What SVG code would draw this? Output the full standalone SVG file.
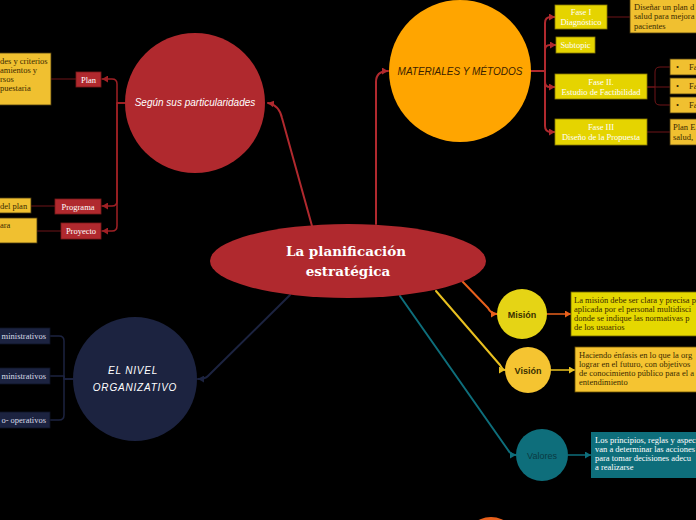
<svg xmlns="http://www.w3.org/2000/svg" width="696" height="520" viewBox="0 0 696 520">
<defs>
<marker id="mRed" markerUnits="userSpaceOnUse" markerWidth="7" markerHeight="7" refX="6" refY="3.5" orient="auto"><path d="M0,0 L6,3.5 L0,7 z" fill="#b0292e"/></marker>
<marker id="mDRed" markerUnits="userSpaceOnUse" markerWidth="7" markerHeight="7" refX="6" refY="3.5" orient="auto"><path d="M0,0 L6,3.5 L0,7 z" fill="#a02025"/></marker>
<marker id="mOrg" markerUnits="userSpaceOnUse" markerWidth="7" markerHeight="7" refX="6" refY="3.5" orient="auto"><path d="M0,0 L6,3.5 L0,7 z" fill="#e8601c"/></marker>
<marker id="mYel" markerUnits="userSpaceOnUse" markerWidth="7" markerHeight="7" refX="6" refY="3.5" orient="auto"><path d="M0,0 L6,3.5 L0,7 z" fill="#e8c020"/></marker>
<marker id="mTeal" markerUnits="userSpaceOnUse" markerWidth="7" markerHeight="7" refX="6" refY="3.5" orient="auto"><path d="M0,0 L6,3.5 L0,7 z" fill="#0e6e7b"/></marker>
<marker id="mNavy" markerUnits="userSpaceOnUse" markerWidth="7" markerHeight="7" refX="6" refY="3.5" orient="auto"><path d="M0,0 L6,3.5 L0,7 z" fill="#1c2340"/></marker>
</defs>
<style>
.c{fill:none;stroke-linecap:round;stroke-linejoin:round}
.red{stroke:#b0292e;stroke-width:2}
.dred{stroke:#a02025;stroke-width:1.5}
.thin{stroke:#6e1518;stroke-width:1}
.bx{font-family:"Liberation Serif",serif;font-size:8.5px}
.w{fill:#ffffff}
.dk{fill:#3a2a00}
.gold{fill:#f0c030;stroke:#4a3a10;stroke-width:0.8}
.ybox{fill:#e5d400;stroke:#8a7a00;stroke-width:0.8}
.rbox{fill:#b0292e;stroke:#7a1a1a;stroke-width:0.8}
.nbox{fill:#1c2340;stroke:#0e1224;stroke-width:0.8}
.lbl{font-family:"Liberation Sans",sans-serif;font-style:italic;font-size:10px}
</style>
<rect width="696" height="520" fill="#000000"/>

<g id="connectors">
<path class="c red" d="M312,226 L282,118 Q279,105 268,103" marker-end="url(#mRed)"/>
<path class="c red" d="M376,224 L376,82 Q376,71 388,71" marker-end="url(#mRed)"/>
<path class="c dred" d="M125,103 H117 V84 Q117,79 112,79 H102" marker-end="url(#mDRed)"/>
<path class="c dred" d="M125,103 H117 V201 Q117,206 112,206 H102" marker-end="url(#mDRed)"/>
<path class="c dred" d="M125,103 H117 V226 Q117,231 112,231 H102" marker-end="url(#mDRed)"/>
<path class="c thin" d="M51,79 H76"/>
<path class="c thin" d="M31,206 H55"/>
<path class="c thin" d="M37,231 H61"/>
<path class="c red" d="M531,71 H545 V23 Q545,17 551,17 H555" marker-end="url(#mRed)"/>
<path class="c red" d="M531,71 H545 V50 Q545,45 550,45 H556" marker-end="url(#mRed)"/>
<path class="c red" d="M531,71 H545 V82 Q545,87 550,87 H555" marker-end="url(#mRed)"/>
<path class="c red" d="M531,71 H545 V126 Q545,132 551,132 H555" marker-end="url(#mRed)"/>
<path class="c thin" d="M607,17 H630"/>
<path class="c thin" d="M647,87 H655 V72 Q655,67 660,67 H670"/>
<path class="c thin" d="M647,87 H670"/>
<path class="c thin" d="M655,87 V100 Q655,105 660,105 H670"/>
<path class="c thin" d="M647,132 H670"/>
<path class="c" stroke="#e8601c" stroke-width="2" d="M462,281 L488,308 Q491,314 497,314" marker-end="url(#mOrg)"/>
<path class="c" stroke="#e8601c" stroke-width="1.5" d="M547,314 H571" marker-end="url(#mOrg)"/>
<path class="c" stroke="#e8c020" stroke-width="2" d="M436,291 L500,365 Q503,370 505,370" marker-end="url(#mYel)"/>
<path class="c" stroke="#e8c020" stroke-width="1.5" d="M551,370 H575" marker-end="url(#mYel)"/>
<path class="c" stroke="#0e6e7b" stroke-width="2" d="M400,296 L508,450 Q511,455 516,455" marker-end="url(#mTeal)"/>
<path class="c" stroke="#0e6e7b" stroke-width="1.5" d="M568,455 H591" marker-end="url(#mTeal)"/>
<path class="c" stroke="#1c2340" stroke-width="2" d="M290,295 L208,376 Q205,379 198,379" marker-end="url(#mNavy)"/>
<path class="c" stroke="#1c2340" stroke-width="1.5" d="M73,379 H64 V341 Q64,336 59,336 H50"/>
<path class="c" stroke="#1c2340" stroke-width="1.5" d="M73,379 H64 V376 H50"/>
<path class="c" stroke="#1c2340" stroke-width="1.5" d="M64,379 V415 Q64,420 59,420 H50"/>
</g>

<g id="central">
<ellipse cx="348" cy="261" rx="138" ry="37" fill="#b0292e"/>
<text x="346" y="256" text-anchor="middle" font-family="DejaVu Serif,serif" font-weight="bold" font-size="13.5" fill="#ffffff">La planificación</text>
<text x="348" y="276" text-anchor="middle" font-family="DejaVu Serif,serif" font-weight="bold" font-size="13.5" fill="#ffffff">estratégica</text>
</g>

<g id="segun">
<circle cx="195" cy="103" r="70" fill="#b0292e"/>
<text x="195" y="106" text-anchor="middle" class="lbl w">Según sus particularidades</text>
</g>

<g id="plan">
<rect x="-5" y="53" width="56" height="52" class="gold"/>
<text class="bx dk" x="0" y="64">des y criterios</text>
<text class="bx dk" x="0" y="73">amientos y</text>
<text class="bx dk" x="0" y="82">rsos</text>
<text class="bx dk" x="0" y="91">puestaria</text>
<rect x="76" y="72" width="25" height="15" class="rbox"/>
<text class="bx w" x="88.5" y="82.5" text-anchor="middle">Plan</text>
</g>
<g id="programa">
<rect x="-5" y="198" width="36" height="15" class="gold"/>
<text class="bx dk" x="0" y="209">del plan</text>
<rect x="55" y="199" width="46" height="15" class="rbox"/>
<text class="bx w" x="78" y="209.5" text-anchor="middle">Programa</text>
</g>
<g id="proyecto">
<rect x="-5" y="218" width="42" height="25" class="gold"/>
<text class="bx dk" x="0" y="228">ara</text>
<rect x="61" y="223" width="40" height="16" class="rbox"/>
<text class="bx w" x="81" y="234" text-anchor="middle">Proyecto</text>
</g>

<g id="materiales">
<circle cx="460" cy="71" r="71" fill="#ffa500"/>
<text x="460" y="75" text-anchor="middle" class="lbl" fill="#3a2200">MATERIALES Y MÉTODOS</text>
</g>

<g id="fase1">
<rect x="555" y="5" width="52" height="24" class="ybox"/>
<text class="bx w" x="581" y="15" text-anchor="middle">Fase I</text>
<text class="bx w" x="581" y="25" text-anchor="middle">Diagnóstico</text>
<rect x="630" y="-2" width="70" height="35" class="gold"/>
<text class="bx dk" x="634" y="10">Diseñar un plan d</text>
<text class="bx dk" x="634" y="19">salud para mejora</text>
<text class="bx dk" x="634" y="29">pacientes</text>
</g>
<g id="subtopic">
<rect x="556" y="37" width="39" height="16" class="ybox"/>
<text class="bx w" x="575.5" y="48" text-anchor="middle">Subtopic</text>
</g>
<g id="fase2">
<rect x="555" y="74" width="92" height="25" class="ybox"/>
<text class="bx w" x="601" y="84.5" text-anchor="middle">Fase II.</text>
<text class="bx w" x="601" y="94.5" text-anchor="middle">Estudio de Factibilidad</text>
<rect x="670" y="59" width="30" height="16" class="gold"/>
<text class="bx dk" x="676" y="70">•</text><text class="bx dk" x="689" y="70">Fa</text>
<rect x="670" y="78" width="30" height="16" class="gold"/>
<text class="bx dk" x="676" y="89">•</text><text class="bx dk" x="689" y="89">Fa</text>
<rect x="670" y="97" width="30" height="16" class="gold"/>
<text class="bx dk" x="676" y="108">•</text><text class="bx dk" x="689" y="108">Fa</text>
</g>
<g id="fase3">
<rect x="555" y="119" width="92" height="26" class="ybox"/>
<text class="bx w" x="601" y="130" text-anchor="middle">Fase III</text>
<text class="bx w" x="601" y="140" text-anchor="middle">Diseño de la Propuesta</text>
<rect x="670" y="119" width="30" height="26" class="gold"/>
<text class="bx dk" x="673" y="130">Plan E</text>
<text class="bx dk" x="673" y="140">salud,</text>
</g>

<g id="mision">
<circle cx="522" cy="314" r="25" fill="#e5d415"/>
<text x="522" y="317.5" text-anchor="middle" font-family="Liberation Sans,sans-serif" font-weight="bold" font-size="9" fill="#3a3000">Misión</text>
<rect x="571" y="292" width="130" height="44" fill="#e5d800" stroke="#6a6000" stroke-width="0.8"/>
<text class="bx dk" x="574" y="303">La misión debe ser clara y precisa p</text>
<text class="bx dk" x="574" y="312">aplicada por el personal multidisci</text>
<text class="bx dk" x="574" y="320.5">donde se indique las normativas p</text>
<text class="bx dk" x="574" y="329.5">de los usuarios</text>
</g>

<g id="vision">
<circle cx="528" cy="370" r="23" fill="#f5c431"/>
<text x="528" y="373.5" text-anchor="middle" font-family="Liberation Sans,sans-serif" font-weight="bold" font-size="9" fill="#3a3000">Visión</text>
<rect x="575" y="347" width="125" height="45" fill="#f5c431" stroke="#6a5000" stroke-width="0.8"/>
<text class="bx dk" x="579" y="358">Haciendo énfasis en lo que la org</text>
<text class="bx dk" x="579" y="367">lograr en el futuro, con objetivos</text>
<text class="bx dk" x="579" y="375.5">de conocimiento público para el a</text>
<text class="bx dk" x="579" y="384.5">entendimiento</text>
</g>

<g id="valores">
<circle cx="542" cy="455" r="26" fill="#0e6e7b"/>
<text x="542" y="458.5" text-anchor="middle" font-family="Liberation Sans,sans-serif" font-size="9" fill="#0a3a42">Valores</text>
<rect x="591" y="432" width="110" height="46" fill="#0e6e7b"/>
<text class="bx w" x="595" y="443">Los principios, reglas y aspec</text>
<text class="bx w" x="595" y="452">van a determinar las acciones</text>
<text class="bx w" x="595" y="461">para tomar decisiones adecu</text>
<text class="bx w" x="595" y="470">a realizarse</text>
</g>

<g id="nivel">
<circle cx="135" cy="379" r="62" fill="#1c2340"/>
<text x="133" y="374" text-anchor="middle" class="lbl w" letter-spacing="0.8">EL NIVEL</text>
<text x="135" y="391" text-anchor="middle" class="lbl w" letter-spacing="0.8">ORGANIZATIVO</text>
</g>
<g id="admin1">
<rect x="-5" y="328" width="55" height="16" class="nbox"/>
<text class="bx" fill="#d8dce8" x="46" y="339" text-anchor="end">ministrativos</text>
</g>
<g id="admin2">
<rect x="-5" y="368" width="55" height="16" class="nbox"/>
<text class="bx" fill="#d8dce8" x="46" y="379" text-anchor="end">ministrativos</text>
</g>
<g id="operativos">
<rect x="-5" y="412" width="55" height="16" class="nbox"/>
<text class="bx" fill="#d8dce8" x="46" y="423" text-anchor="end">o- operativos</text>
</g>

<g id="bottom-node">
<circle cx="491" cy="545" r="28" fill="#e8601c"/>
</g>
</svg>
